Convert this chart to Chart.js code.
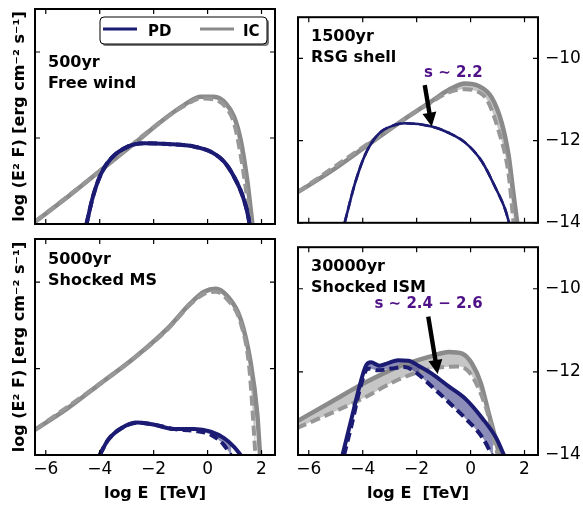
<!DOCTYPE html>
<html>
<head>
<meta charset="utf-8">
<script src="https://cdn.jsdelivr.net/npm/chart.js@4.4.0/dist/chart.umd.min.js"></script>
<style>
html, body { margin: 0; padding: 0; background: #fff; }
#wrap { position: relative; width: 583px; height: 509px; overflow: hidden; }
.panel { position: absolute; }
</style>
</head>
<body>
<div id="wrap">
  <div class="panel" style="left:0;top:0;width:290px;height:240px"><canvas id="p500"></canvas></div>
  <div class="panel" style="left:290px;top:0;width:293px;height:240px"><canvas id="p1500"></canvas></div>
  <div class="panel" style="left:0;top:230px;width:290px;height:279px"><canvas id="p5000"></canvas></div>
  <div class="panel" style="left:290px;top:230px;width:293px;height:279px"><canvas id="p30000"></canvas></div>
</div>
<script>
// --- axes ---
const xMin = -6.4, xMax = 2.5, yMin = -14, yMax = -9;
const xTicks = [-6, -4, -2, 0, 2];
const yTicks = [-14, -12, -10];
const xTitle = 'log E  [TeV]';
const yTitle = 'log (E\u00b2 F) [erg cm\u207b\u00b2 s\u207b\u00b9]';
const legendLabels = ['PD', 'IC'];

// --- 500yr, free wind ---
const e500IcSolid = [-6.4, -5.17, -3.94, -2.71, -1.48, -0.86, -0.25, 0.24, 0.67, 0.98, 1.23, 1.47, 1.57, 1.67];
const f500IcSolid = [-13.95, -13.36, -12.74, -12.12, -11.5, -11.23, -11.04, -11.04, -11.19, -11.5, -12.05, -12.98, -13.5, -14.05];
const e500IcDash = [-6.4, -3.94, -1.48, -0.86, -0.25, 0.24, 0.67, 0.98, 1.2, 1.4, 1.6];
const f500IcDash = [-13.95, -12.74, -11.5, -11.25, -11.08, -11.1, -11.28, -11.65, -12.3, -13.1, -14.05];
const e500PdSolid = [-4.49, -4.25, -3.94, -3.57, -2.96, -2.34, -1.48, -0.5, 0.12, 0.61, 0.98, 1.29, 1.53, 1.56];
const f500PdSolid = [-14.0, -13.36, -12.82, -12.47, -12.2, -12.12, -12.14, -12.2, -12.32, -12.55, -12.9, -13.33, -13.9, -14.05];
const e500PdDash = [-4.49, -4.25, -3.94, -3.57, -2.96, -2.34, -1.48, -0.5, 0.12, 0.61, 0.98, 1.29, 1.53, 1.56];
const f500PdDash = [-14.0, -13.36, -12.82, -12.47, -12.2, -12.12, -12.14, -12.2, -12.32, -12.55, -12.9, -13.33, -13.9, -14.05];

// --- 1500yr, RSG shell ---
const e1500IcSolid = [-6.4, -5.16, -3.92, -2.68, -1.44, -0.82, -0.2, 0.29, 0.79, 1.16, 1.41, 1.59, 1.74];
const f1500IcSolid = [-13.25, -12.74, -12.16, -11.58, -11.04, -10.77, -10.61, -10.67, -10.96, -11.58, -12.36, -13.29, -14.05];
const e1500IcDash = [-6.4, -2.68, -1.44, -0.82, -0.2, 0.29, 0.6, 1.03, 1.41, 1.6];
const f1500IcDash = [-13.25, -11.58, -11.06, -10.83, -10.75, -10.82, -11.0, -11.74, -12.82, -14.05];
const e1500Pd = [-4.67, -4.29, -3.92, -3.43, -2.81, -2.43, -1.44, -0.82, -0.2, 0.42, 0.91, 1.28, 1.45];
const f1500Pd = [-14.0, -13.05, -12.36, -11.85, -11.62, -11.58, -11.66, -11.81, -12.05, -12.51, -13.13, -13.67, -14.05];

// --- 5000yr, shocked MS ---
const e5000IcSolid = [-6.4, -5.17, -3.94, -2.71, -1.48, -0.62, -0.13, 0.3, 0.73, 1.23, 1.6, 1.84, 1.95];
const f5000IcSolid = [-13.42, -12.91, -12.33, -11.75, -11.07, -10.48, -10.22, -10.15, -10.32, -10.86, -11.87, -13.03, -14.05];
const e5000IcDash = [-6.4, -2.71, -1.48, -0.62, -0.13, 0.3, 0.73, 1.23, 1.55, 1.78];
const f5000IcDash = [-13.42, -11.75, -11.09, -10.5, -10.27, -10.22, -10.4, -10.95, -12.0, -14.05];
const e5000PdSolid = [-4.0, -3.69, -3.2, -2.59, -1.97, -1.23, -0.5, 0.12, 0.61, 0.98, 1.25];
const f5000PdSolid = [-14.0, -13.65, -13.38, -13.25, -13.3, -13.4, -13.4, -13.46, -13.61, -13.81, -14.02];
const e5000PdDash = [-4.0, -3.69, -3.2, -2.59, -1.97, -1.23, -0.5, 0.12, 0.61, 0.88];
const f5000PdDash = [-14.0, -13.65, -13.38, -13.25, -13.3, -13.4, -13.44, -13.53, -13.77, -14.02];

// --- 30000yr, shocked ISM ---
const e30000IcSolid = [-6.44, -5.19, -3.94, -2.69, -1.44, -0.81, -0.31, 0.06, 0.38, 0.69, 0.94, 1.08];
const f30000IcSolid = [-13.19, -12.73, -12.27, -11.88, -11.62, -11.52, -11.56, -11.81, -12.27, -13.04, -13.65, -14.05];
const e30000IcDash = [-6.44, -5.19, -3.94, -2.69, -1.69, -0.94, -0.44, -0.06, 0.31, 0.69, 1.02];
const f30000IcDash = [-13.35, -13.0, -12.62, -12.19, -11.96, -11.88, -11.87, -12.0, -12.42, -13.12, -14.05];
const e30000PdSolid = [-4.75, -4.44, -4.12, -3.88, -3.69, -3.38, -3.06, -2.69, -2.31, -1.94, -1.44, -0.81, -0.19, 0.44, 0.94, 1.27];
const f30000PdSolid = [-14.0, -13.19, -12.35, -11.85, -11.77, -11.85, -11.79, -11.72, -11.73, -11.85, -12.04, -12.35, -12.65, -13.12, -13.58, -14.05];
const e30000PdDash = [-4.69, -4.38, -4.1, -3.81, -3.44, -2.94, -2.44, -2.06, -1.44, -0.81, -0.19, 0.44, 0.83];
const f30000PdDash = [-14.0, -13.19, -12.4, -11.92, -11.96, -11.92, -11.88, -12.0, -12.35, -12.73, -13.12, -13.58, -14.05];

// --- kolory ---
const PD_COLOR = '#1b1b73';
const PD_FILL = 'rgba(27, 27, 115, 0.5)';
const IC_COLOR = '#8a8a8a';
const IC_DASH = '#979797';
const IC_FILL = 'rgba(128, 128, 128, 0.45)';
const NOTE_COLOR = '#4f1187';
const FONT = '"DejaVu Sans", sans-serif';

function pts(E, F) {
    return E.map((e, i) => ({ x: e, y: F[i] }));
}

function minusSign(v) {
    return String(v).replace('-', '\u2212');
}

function curves(pdDash, pdSolid, icDash, icSolid, pdWidth) {
    return [
        { label: 'PD', data: pdDash, borderColor: PD_COLOR, borderWidth: pdWidth, borderDash: [9, 5], clip: 0,
          fill: { target: 1, above: PD_FILL, below: PD_FILL } },
        { label: 'PD', data: pdSolid, borderColor: PD_COLOR, borderWidth: pdWidth, clip: 0, fill: false },
        { label: 'IC', data: icDash, borderColor: IC_DASH, borderWidth: 4, borderDash: [10, 5], clip: 0,
          fill: { target: 3, above: IC_FILL, below: IC_FILL } },
        { label: 'IC', data: icSolid, borderColor: IC_COLOR, borderWidth: 4.5, clip: 0, fill: false }
    ];
}

// ramka i wewnetrzne kreski podzialki
const framePlugin = {
    id: 'frame',
    afterDatasetsDraw(chart) {
        const { ctx, chartArea: a, scales: { x, y } } = chart;
        ctx.save();
        ctx.strokeStyle = '#000';
        ctx.lineWidth = 1.2;
        ctx.beginPath();
        xTicks.forEach(v => {
            const px = x.getPixelForValue(v);
            ctx.moveTo(px, a.bottom); ctx.lineTo(px, a.bottom - 5);
            ctx.moveTo(px, a.top); ctx.lineTo(px, a.top + 5);
        });
        yTicks.forEach(v => {
            const py = y.getPixelForValue(v);
            ctx.moveTo(a.left, py); ctx.lineTo(a.left + 5, py);
            ctx.moveTo(a.right, py); ctx.lineTo(a.right - 5, py);
        });
        ctx.stroke();
        ctx.lineWidth = 2;
        ctx.strokeRect(a.left, a.top, a.right - a.left, a.bottom - a.top);
        ctx.restore();
    }
};

function drawArrow(ctx, x0, y0, x1, y1) {
    const dx = x1 - x0, dy = y1 - y0;
    const len = Math.hypot(dx, dy);
    const ux = dx / len, uy = dy / len;
    const hl = 14, hw = 7, sw = 2.2;
    const bx = x1 - ux * hl, by = y1 - uy * hl;
    ctx.beginPath();
    ctx.moveTo(x0 - uy * sw, y0 + ux * sw);
    ctx.lineTo(bx - uy * sw, by + ux * sw);
    ctx.lineTo(bx - uy * hw, by + ux * hw);
    ctx.lineTo(x1, y1);
    ctx.lineTo(bx + uy * hw, by - ux * hw);
    ctx.lineTo(bx + uy * sw, by - ux * sw);
    ctx.lineTo(x0 + uy * sw, y0 - ux * sw);
    ctx.closePath();
    ctx.fill();
}

function notesPlugin(p) {
    return {
        id: 'notes',
        afterDraw(chart) {
            const { ctx, chartArea: a, scales: { x, y } } = chart;
            ctx.save();
            ctx.fillStyle = '#000';
            ctx.font = 'bold 16px ' + FONT;
            ctx.textAlign = 'left';
            ctx.textBaseline = 'alphabetic';
            p.text.forEach((t, i) => ctx.fillText(t, a.left + 13, a.top + p.textTop + i * 21));

            if (p.arrow) {
                ctx.fillStyle = '#000';
                drawArrow(ctx, x.getPixelForValue(p.arrow[0]), y.getPixelForValue(p.arrow[1]),
                               x.getPixelForValue(p.arrow[2]), y.getPixelForValue(p.arrow[3]));
                ctx.fillStyle = NOTE_COLOR;
                ctx.font = 'bold 15px ' + FONT;
                ctx.textAlign = 'center';
                ctx.textBaseline = 'middle';
                ctx.fillText(p.slope, x.getPixelForValue(p.slopeAt[0]), y.getPixelForValue(p.slopeAt[1]));
            }

            if (p.legend) {
                const lx = a.left + 65, ly = a.top + 8, lw = 167, lh = 27;
                ctx.fillStyle = '#7a7a7a';
                ctx.beginPath(); ctx.roundRect(lx + 2, ly + 2, lw, lh, 4); ctx.fill();
                ctx.fillStyle = '#fff';
                ctx.strokeStyle = '#000';
                ctx.lineWidth = 1;
                ctx.beginPath(); ctx.roundRect(lx, ly, lw, lh, 4); ctx.fill(); ctx.stroke();
                const cols = [PD_COLOR, IC_COLOR];
                ctx.font = 'bold 15px ' + FONT;
                ctx.textAlign = 'left';
                ctx.textBaseline = 'alphabetic';
                legendLabels.forEach((lab, i) => {
                    const ox = lx + 3 + i * 97;
                    ctx.strokeStyle = cols[i];
                    ctx.lineWidth = 3;
                    ctx.beginPath(); ctx.moveTo(ox, ly + 12); ctx.lineTo(ox + 34, ly + 12); ctx.stroke();
                    ctx.fillStyle = '#000';
                    ctx.fillText(lab, ox + 45 - (i ? 2 : 0), ly + 19);
                });
            }
            ctx.restore();
        }
    };
}

function makePanel(p) {
    const left = p.side === 'left';
    new Chart(document.getElementById(p.id), {
        type: 'line',
        data: { datasets: p.datasets },
        options: {
            responsive: true,
            maintainAspectRatio: false,
            animation: false,
            events: [],
            layout: { padding: p.padding },
            elements: {
                point: { radius: 0 },
                line: { cubicInterpolationMode: 'monotone', borderCapStyle: 'butt', borderJoinStyle: 'round' }
            },
            plugins: {
                legend: { display: false },
                tooltip: { enabled: false },
                filler: { drawTime: 'beforeDatasetsDraw' }
            },
            scales: {
                x: {
                    type: 'linear', position: 'bottom', min: xMin, max: xMax,
                    afterBuildTicks: s => { s.ticks = xTicks.map(v => ({ value: v })); },
                    afterFit: s => { s.height = p.xHeight; },
                    grid: { display: false, drawTicks: false },
                    border: { display: false },
                    ticks: { display: p.xLabels, padding: 4, maxRotation: 0, autoSkip: false,
                             color: '#000', font: { family: FONT, size: 17 }, callback: minusSign },
                    title: { display: p.xLabels, text: xTitle, color: '#000',
                             font: { family: FONT, size: 16, weight: 'bold' }, padding: { top: 0, bottom: 6 } }
                },
                y: {
                    type: 'linear', position: p.side, min: yMin, max: yMax,
                    afterBuildTicks: s => { s.ticks = yTicks.map(v => ({ value: v })); },
                    afterFit: s => { s.width = left ? 35 : 45; },
                    grid: { display: false, drawTicks: false },
                    border: { display: false },
                    ticks: { display: !left, padding: 7, color: '#000',
                             font: { family: FONT, size: 17 }, callback: minusSign },
                    title: { display: left, text: yTitle, color: '#000',
                             font: { family: FONT, size: 16, weight: 'bold' }, padding: { top: 10, bottom: 0 } }
                }
            }
        },
        plugins: [framePlugin, notesPlugin(p)]
    });
}

makePanel({
    id: 'p500', side: 'left', xLabels: false, xHeight: 16,
    padding: { top: 9, right: 15, left: 0, bottom: 0 },
    text: ['500yr', 'Free wind'], textTop: 58, legend: true,
    datasets: curves(pts(e500PdDash, f500PdDash), pts(e500PdSolid, f500PdSolid),
                     pts(e500IcDash, f500IcDash), pts(e500IcSolid, f500IcSolid), 4)
});

makePanel({
    id: 'p1500', side: 'right', xLabels: false, xHeight: 16,
    padding: { top: 9, right: 0, left: 8, bottom: 0 },
    text: ['1500yr', 'RSG shell'], textTop: 24,
    arrow: [-1.7, -10.65, -1.44, -11.66], slope: 's \u223c 2.2', slopeAt: [-0.64, -10.37],
    datasets: curves(pts(e1500Pd, f1500Pd), pts(e1500Pd, f1500Pd),
                     pts(e1500IcDash, f1500IcDash), pts(e1500IcSolid, f1500IcSolid), 2.6)
});

makePanel({
    id: 'p5000', side: 'left', xLabels: true, xHeight: 54,
    padding: { top: 9, right: 15, left: 0, bottom: 0 },
    text: ['5000yr', 'Shocked MS'], textTop: 25,
    datasets: curves(pts(e5000PdDash, f5000PdDash), pts(e5000PdSolid, f5000PdSolid),
                     pts(e5000IcDash, f5000IcDash), pts(e5000IcSolid, f5000IcSolid), 4)
});

makePanel({
    id: 'p30000', side: 'right', xLabels: true, xHeight: 54,
    padding: { top: 9, right: 0, left: 8, bottom: 0 },
    text: ['30000yr', 'Shocked ISM'], textTop: 24,
    arrow: [-1.57, -10.67, -1.22, -12.05], slope: 's \u223c 2.4 \u2212 2.6', slopeAt: [-1.56, -10.36],
    datasets: curves(pts(e30000PdDash, f30000PdDash), pts(e30000PdSolid, f30000PdSolid),
                     pts(e30000IcDash, f30000IcDash), pts(e30000IcSolid, f30000IcSolid), 4)
});
</script>
</body>
</html>
